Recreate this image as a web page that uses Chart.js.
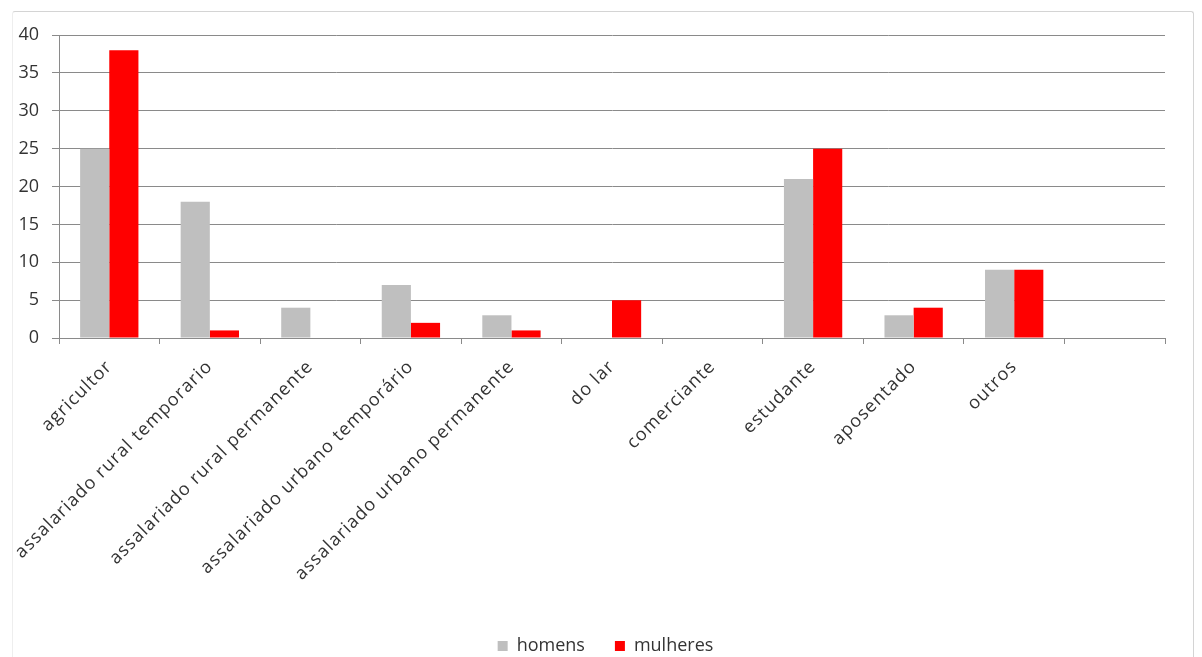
<!DOCTYPE html>
<html>
<head>
<meta charset="utf-8">
<script src="https://cdn.jsdelivr.net/npm/chart.js@4.4.1/dist/chart.umd.min.js"></script>
<style>
  html, body { margin: 0; padding: 0; background: #fff; }
  #wrap { position: relative; width: 1202px; height: 657px; overflow: hidden; }
  #frame { position: absolute; left: 12px; top: 11px; width: 1182px; height: 700px;
           border-top: 1px solid #d4d4d4; border-right: 1px solid #d4d4d4; border-left: 1px solid #eeeeee;
           border-radius: 3px; box-sizing: border-box; }
  canvas { position: absolute; left: 0; top: 0; }
</style>
</head>
<body>
<div id="wrap">
  <div id="frame"></div>
  <canvas id="c" width="1202" height="657"></canvas>
</div>
<script>
const categories = [
  "agricultor",
  "assalariado rural temporario",
  "assalariado rural permanente",
  "assalariado urbano temporário",
  "assalariado urbano permanente",
  "do lar",
  "comerciante",
  "estudante",
  "aposentado",
  "outros",
  ""
];
const homens   = [25, 18, 4, 7, 3, 0, 0, 21, 3, 9, null];
const mulheres = [38, 1, 0, 2, 1, 5, 0, 25, 4, 9, null];
const yTicks = [0, 5, 10, 15, 20, 25, 30, 35, 40];

const FONT = "'Open Sans', 'Liberation Sans', sans-serif";
const TEXT = "#333333";
const GRID = "#8a8a8a";
const PLOT_BOTTOM = 338;
const PAD_BOTTOM = -8;

const legendShift = {
  id: "legendShift",
  afterLayout(chart) {
    const l = chart.legend;
    if (l) { l.left += 23; l.right += 23; }
  }
};

new Chart(document.getElementById("c"), {
  type: "bar",
  data: {
    labels: categories,
    datasets: [
      { label: "homens", data: homens, backgroundColor: "#bfbfbf", borderWidth: 0,
        categoryPercentage: 0.58, barPercentage: 1.0 },
      { label: "mulheres", data: mulheres, backgroundColor: "#ff0000", borderWidth: 0,
        categoryPercentage: 0.58, barPercentage: 1.0 }
    ]
  },
  plugins: [legendShift],
  options: {
    responsive: false,
    animation: false,
    layout: { padding: { left: 0, right: 37, top: 35, bottom: PAD_BOTTOM } },
    plugins: {
      tooltip: { enabled: false },
      legend: {
        position: "bottom",
        labels: {
          font: { family: FONT, size: 18 },
          color: TEXT,
          boxWidth: 10,
          boxHeight: 10,
          padding: 30
        }
      }
    },
    scales: {
      x: {
        grid: { display: true, drawOnChartArea: false, offset: true, color: GRID, tickLength: 6 },
        border: { display: true, color: GRID, width: 1 },
        ticks: {
          font: { family: FONT, size: 18 },
          color: TEXT,
          minRotation: 45,
          maxRotation: 45,
          autoSkip: false,
          padding: 12
        },
        afterFit: (s) => {
          const lh = s.chart.legend ? s.chart.legend.height : 0;
          s.height = s.chart.height - PLOT_BOTTOM - lh - PAD_BOTTOM;
          if (!s._spaced) {
            const orig = s.drawLabels.bind(s);
            s.drawLabels = function (area) {
              const ctx = this.ctx;
              const prev = ctx.letterSpacing;
              ctx.letterSpacing = "1.1px";
              orig(area);
              ctx.letterSpacing = prev || "0px";
            };
            s._spaced = true;
          }
        }
      },
      y: {
        min: 0,
        max: 40,
        afterBuildTicks: (s) => { s.ticks = yTicks.map(v => ({ value: v })); },
        grid: { color: GRID, tickLength: 7, lineWidth: 1 },
        border: { display: true, color: GRID, width: 1 },
        ticks: {
          font: { family: FONT, size: 18 },
          color: TEXT,
          padding: 13
        },
        afterFit: (s) => { s.width = 59; }
      }
    }
  }
});
</script>
</body>
</html>
